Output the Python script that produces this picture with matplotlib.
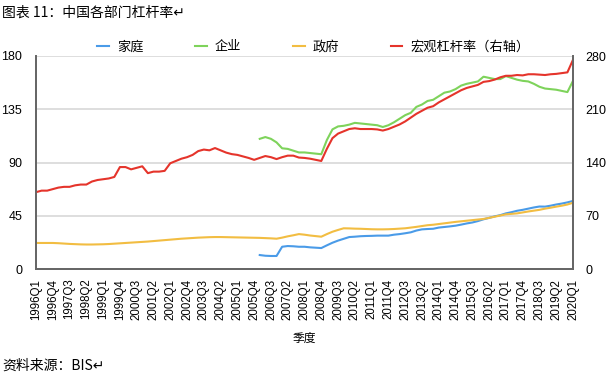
import numpy as np
import matplotlib
matplotlib.use("Agg")
import matplotlib.pyplot as plt

plt.rcParams['font.family'] = ['Liberation Sans', 'Noto Sans CJK SC', 'DejaVu Sans']

# --- datos ---
quarters = [f"{y}Q{q}" for y in range(1996, 2021) for q in range(1, 5)][:97]

# gobierno, desde 1996Q1
gobierno = [22, 22, 22, 22, 21.8, 21.5, 21.2, 21, 20.8, 20.7,
            20.7, 20.8, 20.9, 21.1, 21.4, 21.7, 22, 22.3, 22.6, 22.9,
            23.2, 23.6, 24, 24.4, 24.8, 25.2, 25.6, 25.9, 26.2, 26.5,
            26.7, 26.9, 27, 27, 26.9, 26.8, 26.7, 26.6, 26.5, 26.4,
            26.3, 26.1, 25.9, 25.6, 26.5, 27.6, 28.5, 29.5, 29, 28.3,
            27.8, 27.3, 29.5, 31.5, 33, 34.4, 34.3, 34.1, 34, 33.8,
            33.6, 33.5, 33.5, 33.6, 33.8, 34.1, 34.4, 35, 35.6, 36.3,
            37, 37.4, 38, 38.6, 39.2, 39.8, 40.3, 40.8, 41.3, 41.8,
            42.3, 43.2, 44.2, 45.2, 46.2, 46.6, 47, 47.8, 48.6, 49.3,
            50, 51, 51.8, 52.7, 53.5, 54.5, 56]

# hogares y empresas, desde 2006Q1
inicio = 40
hogares = [11.8, 11.2, 11, 11, 18.8, 19.4, 19.2, 18.8, 18.8, 18.3,
           18, 17.7, 20, 22.2, 24, 25.5, 27, 27.3, 27.7, 27.9,
           28, 28.2, 28.2, 28.2, 29, 29.5, 30.2, 31, 32.5, 33.5,
           33.8, 34, 35, 35.5, 36, 36.6, 37.5, 38.5, 39.3, 40.5,
           42, 43.2, 44.5, 45.5, 47, 48, 49.2, 50, 51, 52,
           52.8, 52.7, 53.5, 54.5, 55.3, 56.3, 57.5]
empresas = [110, 111.5, 110, 107, 102, 101.5, 100, 98.5, 98.5, 98,
            97.5, 97, 109, 118, 120.5, 121, 122, 123.5, 123, 122.5,
            122, 121.5, 120, 121.5, 124, 127, 130, 132, 137, 139,
            142, 143, 146, 149, 150, 152, 155, 156.5, 157.5, 158.5,
            162.5, 161.5, 160.5, 160.5, 163, 161.5, 160, 159, 158.5, 156.5,
            154, 152.5, 152, 151.5, 150.5, 149.5, 159]

# apalancamiento macro (eje derecho), desde 1996Q1
macro = [101, 103, 103, 105, 107, 108, 108, 110, 111, 111,
         115, 117, 118, 119, 121, 134, 134, 131, 133, 135,
         126, 128, 128, 129, 139, 142, 145, 147, 150, 155,
         157, 156, 159, 156, 153, 151, 150, 148, 146, 143.5,
         146, 148.5, 147, 144.5, 147, 149, 149, 146.5, 146, 145,
         143.5, 142, 158, 172, 178, 181, 184, 185, 184, 184,
         184, 183.5, 182, 184, 187, 190, 194, 199, 204, 208,
         212, 214, 219, 223, 227, 231, 235, 238, 240, 242,
         246, 247, 249, 252, 254, 254, 255, 254.5, 256, 256,
         255.5, 255, 256, 256.5, 257.5, 258.5, 275]

c_azul = '#4a9be8'
c_verde = '#7ed35b'
c_amarillo = '#f2bd42'
c_rojo = '#e5342b'

x = np.arange(len(quarters))
x_sub = np.arange(inicio, inicio + len(hogares))

fig = plt.figure(figsize=(6.08, 3.79), dpi=100)
ax = fig.add_axes([36 / 608, 1 - 269 / 379, 537 / 608, 213 / 379])
ax2 = ax.twinx()

l1, = ax.plot(x_sub, hogares, color=c_azul, lw=1.5, label='家庭')
l2, = ax.plot(x_sub, empresas, color=c_verde, lw=1.5, label='企业')
l3, = ax.plot(x, gobierno, color=c_amarillo, lw=1.5, label='政府')
l4, = ax2.plot(x, macro, color=c_rojo, lw=1.5, label='宏观杠杆率（右轴）')

ax.set_xlim(0, len(quarters) - 1)
ax.set_ylim(0, 180)
ax2.set_ylim(0, 280)
ax.set_yticks([0, 45, 90, 135, 180])
ax2.set_yticks([0, 70, 140, 210, 280])
ax.set_xticks(x[::3])
ax.set_xticklabels(quarters[::3], rotation=90, fontsize=8.3)

ax.grid(axis='y', color='#d8d8d8', lw=1.2)
ax.set_axisbelow(True)
for a in (ax, ax2):
    a.tick_params(length=0)
    a.spines['top'].set_visible(False)
    for s in ('left', 'right', 'bottom'):
        a.spines[s].set_color('#666666')
        a.spines[s].set_linewidth(1.3)
ax.tick_params(axis='y', labelsize=9, pad=10)
ax2.tick_params(axis='y', labelsize=9, pad=9)
ax.tick_params(axis='x', pad=7)

ax.set_xlabel('季度', fontsize=8.5, labelpad=9)

fig.legend(handles=[l1, l2, l3, l4], loc='center left', ncol=4,
           bbox_to_anchor=(92 / 608, 1 - 47 / 379), frameon=False,
           fontsize=9.5, handlelength=0.9, handletextpad=0.6,
           columnspacing=3.9, borderaxespad=0)

fig.text(2 / 608, 1 - 13 / 379, '图表 11：中国各部门杠杆率↵', fontsize=10,
         va='center', ha='left', family=['Noto Sans CJK SC', 'DejaVu Sans'])
fig.text(2 / 608, 1 - 366 / 379, '资料来源：BIS↵', fontsize=10,
         va='center', ha='left', family=['Noto Sans CJK SC', 'DejaVu Sans'])

fig.savefig('out.png', dpi=100)
